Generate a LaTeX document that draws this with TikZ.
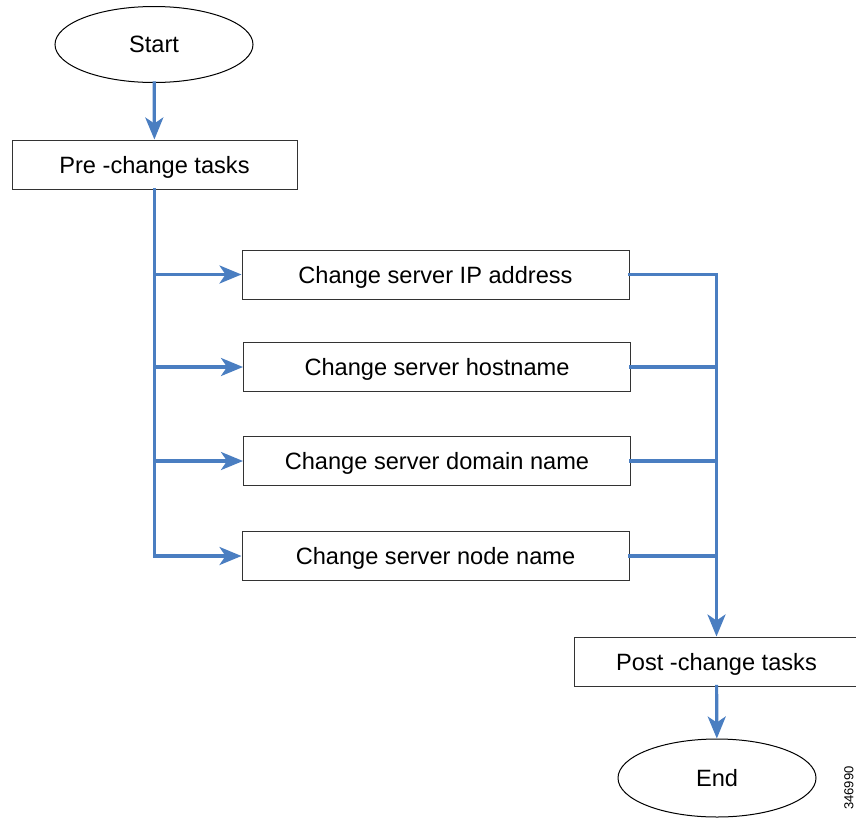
\documentclass[tikz,border=0pt]{standalone}
\usepackage{fontspec}
\setmainfont{Liberation Sans}
\usetikzlibrary{shapes.geometric,arrows.meta}
\definecolor{flowblue}{RGB}{74,126,193}
\begin{document}
\begin{tikzpicture}[x=0.5pt,y=-0.5pt,
        font=\fontsize{11.8}{14}\selectfont,
        box/.style={draw=black!80,line width=0.5pt,minimum width=193.5pt,minimum height=24.5pt,inner sep=0pt,text depth=0pt},
        oval/.style={draw,ellipse,line width=0.5pt,minimum width=99pt,minimum height=38pt,inner sep=0pt,text depth=0pt},
        line/.style={flowblue,line width=1.6pt,line cap=rect},
        flow/.style={line,-{Stealth[length=11pt,width=9pt,inset=3pt]}}]
        \useasboundingbox (0,0) rectangle (856,819);

        \node[oval](s) at (154,44.5) {Start};
        \node[box,minimum width=142.5pt](p) at (154.5,164.5) {Pre -change tasks};
        \node[box](a) at (435.5,274.5) {Change server IP address};
        \node[box](b) at (437,367) {Change server hostname};
        \node[box](c) at (437,461) {Change server domain name};
        \node[box](d) at (435.5,556) {Change server node name};
        \node[box,minimum width=142.5pt](q) at (716.5,661.5) {Post -change tasks};
        \node[oval,minimum height=39pt](e) at (717,778) {End};
        \node[font=\fontsize{6.5}{7}\selectfont,rotate=90](n) at (849,788) {346990};

        \draw [flow] (s) -- (p) ;
        \draw [line] (p.south) -- (p.south |- d.west) ;
        \draw [flow] (p.south |- a.west) -- (a.west) ;
        \draw [flow] (p.south |- b.west) -- (b.west) ;
        \draw [flow] (p.south |- c.west) -- (c.west) ;
        \draw [flow] (p.south |- d.west) -- (d.west) ;
        \draw [flow] (a.east) -| (q.north) ;
        \draw [line] (b.east) -- (b.east -| q.north) ;
        \draw [line] (c.east) -- (c.east -| q.north) ;
        \draw [line] (d.east) -- (d.east -| q.north) ;
        \draw [flow] (q) -- (e) ;
\end{tikzpicture}
\end{document}
